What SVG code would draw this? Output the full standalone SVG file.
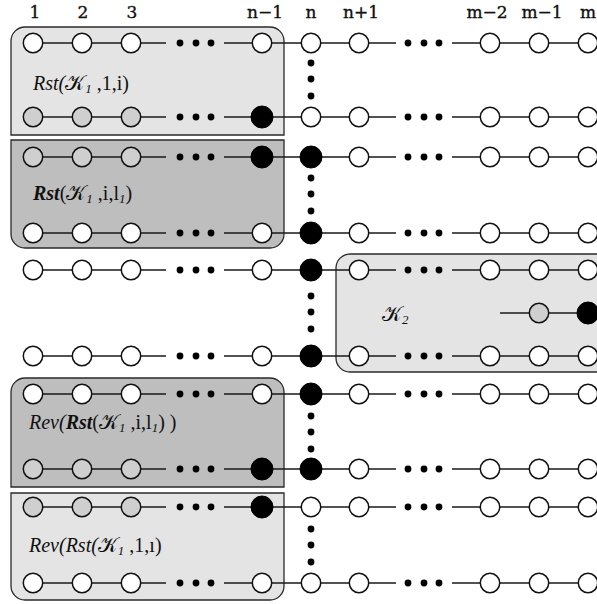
<svg xmlns="http://www.w3.org/2000/svg" width="597" height="604" viewBox="0 0 597 604">
<style>
.bl{fill:#e4e4e4;stroke:#2a2a2a;stroke-width:1.3}
.bd{fill:#bebebe;stroke:#2a2a2a;stroke-width:1.3}
.ln{stroke:#1a1a1a;stroke-width:1.4;fill:none}
.w{fill:#fff;stroke:#111;stroke-width:1.5}
.g{fill:#cfcfcf;stroke:#111;stroke-width:1.5}
.b{fill:#000;stroke:#000;stroke-width:1}
.d{fill:#000}
.hd{font-family:"DejaVu Serif","Liberation Serif",serif;font-size:17px;fill:#111;stroke:#111;stroke-width:0.35;text-anchor:middle}
.lab{font-family:"Liberation Serif","DejaVu Serif",serif;font-size:20px;fill:#111}
.it{font-style:italic}
.bi{font-style:italic;font-weight:bold}
.k{font-family:"DejaVu Serif","DejaVu Sans","Noto Sans",serif;font-style:normal;font-weight:normal;font-size:21px}
.sb{font-style:italic;font-weight:normal;font-size:13px}
</style>
<defs>
<circle id="cw" r="9.7" class="w"/>
<circle id="cg" r="9.7" class="g"/>
<circle id="cb" r="11" class="b"/>
<g id="hd3"><circle cx="0" cy="0" r="3.4"/><circle cx="16" cy="0" r="3.4"/><circle cx="31" cy="0" r="3.4"/></g>
<g id="vd3"><circle cx="0" cy="0" r="3.4"/><circle cx="0" cy="16" r="3.4"/><circle cx="0" cy="33" r="3.4"/></g>
</defs>

<g id="headers" class="hd">
<text x="35" y="18">1</text>
<text x="83" y="18">2</text>
<text x="132" y="18">3</text>
<text x="265" y="18">n−1</text>
<text x="311" y="18">n</text>
<text x="361" y="18">n+1</text>
<text x="487" y="18">m−2</text>
<text x="542" y="18">m−1</text>
<text x="588" y="18">m</text>
</g>

<g id="box-rst-1-i"><path class="bl" d="M11,135 V41 A14,14 0 0 1 25,27 H270 A14,14 0 0 1 284,41 V135 Z"/></g>
<g id="box-rst-i-l1"><path class="bd" d="M11,140 H284 V234 A14,14 0 0 1 270,248 H25 A14,14 0 0 1 11,234 Z"/></g>
<g id="box-k2"><rect class="bl" x="336" y="254" width="280" height="118" rx="14"/></g>
<g id="box-rev-i-l1"><path class="bd" d="M11,487 V392 A14,14 0 0 1 25,378 H270 A14,14 0 0 1 284,392 V487 Z"/></g>
<g id="box-rev-1-1"><path class="bl" d="M11,493 H284 V586 A14,14 0 0 1 270,600 H25 A14,14 0 0 1 11,586 Z"/></g>

<g id="connectors" class="ln">
<path d="M33,43H166M224,43H396M452,43H597"/>
<path d="M33,117H166M224,117H396M452,117H597"/>
<path d="M33,157H166M224,157H396M452,157H597"/>
<path d="M33,233H166M224,233H396M452,233H597"/>
<path d="M33,270H166M224,270H396M452,270H597"/>
<path d="M500,313H597"/>
<path d="M33,356H166M224,356H396M452,356H597"/>
<path d="M33,394H166M224,394H396M452,394H597"/>
<path d="M33,469H166M224,469H396M452,469H597"/>
<path d="M33,507H166M224,507H396M452,507H597"/>
<path d="M33,583H166M224,583H396M452,583H597"/>
</g>

<g id="ellipses" class="d">
<use href="#hd3" x="180" y="43"/><use href="#hd3" x="408" y="43"/>
<use href="#hd3" x="180" y="117"/><use href="#hd3" x="408" y="117"/>
<use href="#hd3" x="180" y="157"/><use href="#hd3" x="408" y="157"/>
<use href="#hd3" x="180" y="233"/><use href="#hd3" x="408" y="233"/>
<use href="#hd3" x="180" y="270"/><use href="#hd3" x="408" y="270"/>
<use href="#hd3" x="180" y="356"/><use href="#hd3" x="408" y="356"/>
<use href="#hd3" x="180" y="394"/><use href="#hd3" x="408" y="394"/>
<use href="#hd3" x="180" y="469"/><use href="#hd3" x="408" y="469"/>
<use href="#hd3" x="180" y="507"/><use href="#hd3" x="408" y="507"/>
<use href="#hd3" x="180" y="583"/><use href="#hd3" x="408" y="583"/>
<use href="#vd3" x="311" y="63"/>
<use href="#vd3" x="311" y="178"/>
<use href="#vd3" x="311" y="296"/>
<use href="#vd3" x="311" y="416"/>
<use href="#vd3" x="311" y="529"/>
</g>

<g id="row1"><use href="#cw" x="33" y="43"/><use href="#cw" x="82" y="43"/><use href="#cw" x="131" y="43"/><use href="#cw" x="262" y="43"/><use href="#cw" x="311" y="43"/><use href="#cw" x="359" y="43"/><use href="#cw" x="490" y="43"/><use href="#cw" x="539" y="43"/><use href="#cw" x="588" y="43"/></g>
<g id="row2"><use href="#cg" x="33" y="117"/><use href="#cg" x="82" y="117"/><use href="#cg" x="131" y="117"/><use href="#cb" x="262" y="117"/><use href="#cw" x="311" y="117"/><use href="#cw" x="359" y="117"/><use href="#cw" x="490" y="117"/><use href="#cw" x="539" y="117"/><use href="#cw" x="588" y="117"/></g>
<g id="row3"><use href="#cg" x="33" y="157"/><use href="#cg" x="82" y="157"/><use href="#cg" x="131" y="157"/><use href="#cb" x="262" y="157"/><use href="#cb" x="311" y="157"/><use href="#cw" x="359" y="157"/><use href="#cw" x="490" y="157"/><use href="#cw" x="539" y="157"/><use href="#cw" x="588" y="157"/></g>
<g id="row4"><use href="#cw" x="33" y="233"/><use href="#cw" x="82" y="233"/><use href="#cw" x="131" y="233"/><use href="#cw" x="262" y="233"/><use href="#cb" x="311" y="233"/><use href="#cw" x="359" y="233"/><use href="#cw" x="490" y="233"/><use href="#cw" x="539" y="233"/><use href="#cw" x="588" y="233"/></g>
<g id="row5"><use href="#cw" x="33" y="270"/><use href="#cw" x="82" y="270"/><use href="#cw" x="131" y="270"/><use href="#cw" x="262" y="270"/><use href="#cb" x="311" y="270"/><use href="#cw" x="359" y="270"/><use href="#cw" x="490" y="270"/><use href="#cw" x="539" y="270"/><use href="#cw" x="588" y="270"/></g>
<g id="rowk2"><use href="#cg" x="539" y="313"/><use href="#cb" x="588" y="313"/></g>
<g id="row6"><use href="#cw" x="33" y="356"/><use href="#cw" x="82" y="356"/><use href="#cw" x="131" y="356"/><use href="#cw" x="262" y="356"/><use href="#cb" x="311" y="356"/><use href="#cw" x="359" y="356"/><use href="#cw" x="490" y="356"/><use href="#cw" x="539" y="356"/><use href="#cw" x="588" y="356"/></g>
<g id="row7"><use href="#cw" x="33" y="394"/><use href="#cw" x="82" y="394"/><use href="#cw" x="131" y="394"/><use href="#cw" x="262" y="394"/><use href="#cb" x="311" y="394"/><use href="#cw" x="359" y="394"/><use href="#cw" x="490" y="394"/><use href="#cw" x="539" y="394"/><use href="#cw" x="588" y="394"/></g>
<g id="row8"><use href="#cg" x="33" y="469"/><use href="#cg" x="82" y="469"/><use href="#cg" x="131" y="469"/><use href="#cb" x="262" y="469"/><use href="#cb" x="311" y="469"/><use href="#cw" x="359" y="469"/><use href="#cw" x="490" y="469"/><use href="#cw" x="539" y="469"/><use href="#cw" x="588" y="469"/></g>
<g id="row9"><use href="#cg" x="33" y="507"/><use href="#cg" x="82" y="507"/><use href="#cg" x="131" y="507"/><use href="#cb" x="262" y="507"/><use href="#cw" x="311" y="507"/><use href="#cw" x="359" y="507"/><use href="#cw" x="490" y="507"/><use href="#cw" x="539" y="507"/><use href="#cw" x="588" y="507"/></g>
<g id="row10"><use href="#cw" x="33" y="583"/><use href="#cw" x="82" y="583"/><use href="#cw" x="131" y="583"/><use href="#cw" x="262" y="583"/><use href="#cw" x="311" y="583"/><use href="#cw" x="359" y="583"/><use href="#cw" x="490" y="583"/><use href="#cw" x="539" y="583"/><use href="#cw" x="588" y="583"/></g>

<g id="labels" class="lab">
<text x="33" y="90"><tspan class="it">Rst(</tspan><tspan class="k">𝒦</tspan><tspan class="sb" dy="3">1</tspan><tspan dy="-3"> ,1,i)</tspan></text>
<text x="33" y="200"><tspan class="bi">Rst</tspan>(<tspan class="k">𝒦</tspan><tspan class="sb" dy="3">1</tspan><tspan dy="-3"> ,i,l</tspan><tspan class="sb" dy="3">1</tspan><tspan dy="-3">)</tspan></text>
<text x="382" y="321"><tspan class="k">𝒦</tspan><tspan class="sb" dy="3">2</tspan></text>
<text x="29" y="429"><tspan class="it">Rev(</tspan><tspan class="bi">Rst</tspan>(<tspan class="k">𝒦</tspan><tspan class="sb" dy="3">1</tspan><tspan dy="-3"> ,i,l</tspan><tspan class="sb" dy="3">1</tspan><tspan dy="-3">) )</tspan></text>
<text x="29" y="552"><tspan class="it">Rev(Rst(</tspan><tspan class="k">𝒦</tspan><tspan class="sb" dy="3">1</tspan><tspan dy="-3"> ,1,ı)</tspan></text>
</g>
</svg>
